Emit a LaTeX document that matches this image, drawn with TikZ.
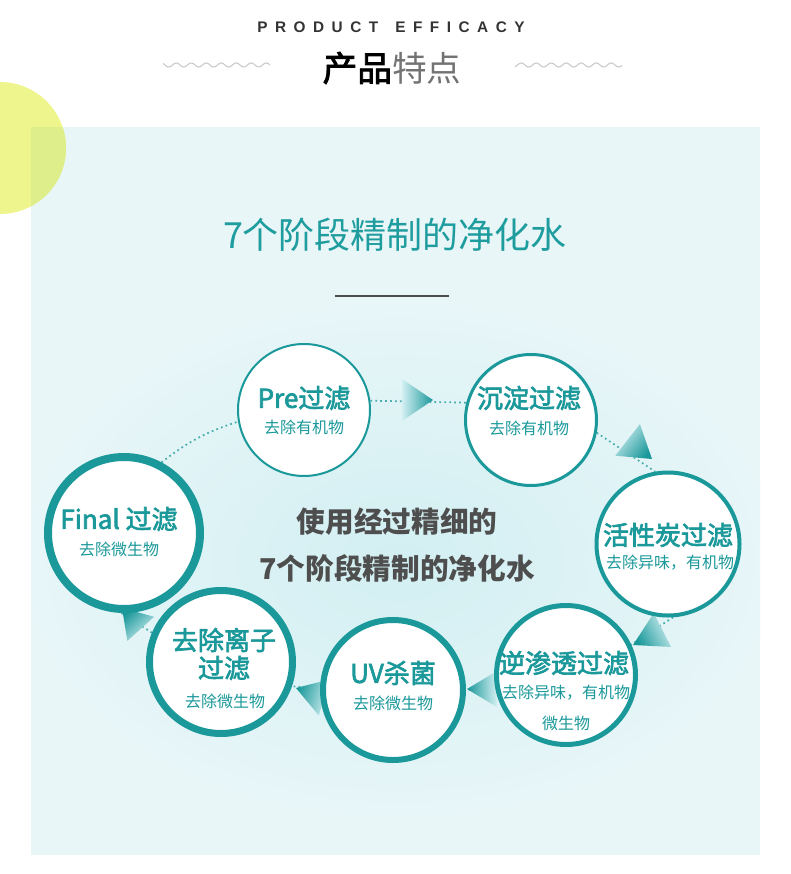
\documentclass[tikz,border=0pt]{standalone}
\usepackage{fontspec}
\setmainfont{Noto Sans CJK SC}
\newfontfamily\headfont[LetterSpace=49]{Liberation Sans}
\newfontfamily\stagefont[FakeBold=2.5]{Noto Sans CJK SC}
\usepackage{xcolor}
\usetikzlibrary{backgrounds}

\definecolor{tealc}{RGB}{26,152,154}
\definecolor{titleteal}{RGB}{30,156,158}
\definecolor{bgblue}{RGB}{232,246,248}
\definecolor{glow}{RGB}{210,239,242}
\definecolor{sun}{RGB}{238,245,140}
\definecolor{sunmix}{RGB}{221,238,138}
\definecolor{inkgray}{RGB}{78,78,78}
\definecolor{wavegray}{RGB}{200,200,200}

\tikzset{
  stage/.style={circle, draw=tealc, fill=white, inner sep=0pt},
  stagehead/.style={text=tealc, font=\stagefont\fontsize{19.5}{20}\selectfont},
  stagesub/.style={text=tealc, font=\fontsize{12}{13}\selectfont},
  flowline/.style={tealc!80, line width=1.3pt, dash pattern=on 1.3pt off 2.4pt},
}

\begin{document}
\begin{tikzpicture}[x=0.75pt, y=-0.75pt]
\useasboundingbox (0,0) rectangle (790,874);

% stages, clockwise from Pre
\node[stage, line width=1.5pt, minimum size=99pt] (pre) at (304,410) {};
\node[stage, line width=2.25pt, minimum size=98.25pt] (sed) at (531,420) {};
\node[stage, line width=3pt, minimum size=107.25pt] (carbon) at (668,544) {};
\node[stage, line width=3.75pt, minimum size=104.25pt] (ro) at (566,675) {};
\node[stage, line width=4.5pt, minimum size=105pt] (uv) at (393,690) {};
\node[stage, line width=5.25pt, minimum size=107.25pt] (ion) at (221,662) {};
\node[stage, line width=6pt, minimum size=114pt] (final) at (124,533) {};

% stage texts
\node[stagehead] (pre-h) at (304,398) {Pre过滤};
\node[stagesub] (pre-s) at (304,427) {去除有机物};
\node[stagehead] (sed-h) at (529,398) {沉淀过滤};
\node[stagesub] (sed-s) at (529,428) {去除有机物};
\node[stagehead] (carbon-h) at (668,535) {活性炭过滤};
\node[stagesub] (carbon-s) at (670,563) {去除异味，有机物};
\node[stagehead] (ro-h) at (564,663) {逆渗透过滤};
\node[stagesub] (ro-s) at (566,693) {去除异味，有机物};
\node[stagesub] (ro-t) at (566,723) {微生物};
\node[stagehead] (uv-h) at (393,673) {UV杀菌};
\node[stagesub] (uv-s) at (393,703) {去除微生物};
\node[stagehead] (ion-h) at (224,640) {去除离子};
\node[stagehead] (ion-h2) at (224,668) {过滤};
\node[stagesub] (ion-s) at (225,701) {去除微生物};
\node[stagehead] (final-h) at (119,519) {Final 过滤};
\node[stagesub] (final-s) at (119,549) {去除微生物};

% middle text
\node[text=inkgray, align=center, font=\fontsize{21.5}{35}\selectfont\bfseries] (mid) at (397,545)
  {使用经过精细的\\7个阶段精制的净化水};

% header
\node[font=\headfont\fontsize{11.5}{12}\selectfont\bfseries, text=black!80] (eng) at (391,27) {PRODUCT\hspace{4pt} EFFICACY};
\node[font=\fontsize{26}{28}\selectfont] (cn) at (392,68) {{\stagefont 产品}\textcolor{black!55}{特点}};
\draw[wavegray, line width=0.8pt] plot[domain=163:270, samples=120, smooth] (\x, {65+2*sin(24*\x)});
\draw[wavegray, line width=0.8pt] plot[domain=515:622, samples=120, smooth] (\x, {65+2*sin(24*\x)});

% title
\node[text=titleteal, font=\fontsize{27}{29}\selectfont] (title) at (395,235) {7个阶段精制的净化水};
\draw[inkgray, line width=1.5pt] (335,296) -- (449,296);

\begin{scope}[on background layer]
  \fill[bgblue] (31,127) rectangle (760,855);
  \begin{scope}
    \clip (31,127) rectangle (760,855);
    \shade[inner color=glow, outer color=bgblue] (400,560) ellipse (380 and 260);
  \end{scope}
  \fill[sun] (0,148) circle (66);
  \begin{scope}
    \clip (31,127) rectangle (760,855);
    \fill[sunmix] (0,148) circle (66);
  \end{scope}

  % dotted ring
  \draw[flowline] (final.62) to[bend left=10] (pre.190);
  \draw[flowline] (pre.8) -- (sed.165);
  \draw[flowline] (sed.-11) -- (carbon.100);
  \draw[flowline] (carbon.-86) -- (ro.25);
  \draw[flowline] (ro.190) -- (uv.0);
  \draw[flowline] (uv.178) -- (ion.-19);
  \draw[flowline] (ion.157) -- (final.268);

  % arrow wedges
  \foreach \tx/\ty/\ang/\len/\wid in {433/400/0/31/21, 652/459/-38/31/20, 633/645/207/33/19,
                                      467/689/180/30/18, 296/688/162/30/19, 122/608/132/28/18}{
    \pgfmathsetmacro\sang{\ang-90}
    \begin{scope}[shift={(\tx,\ty)}, rotate=\ang]
      \shade[top color=tealc, bottom color=glow, shading angle=\sang]
        (0,0) -- (-\len,\wid) -- (-\len,-\wid) -- cycle;
    \end{scope}
  }
\end{scope}
\end{tikzpicture}
\end{document}
